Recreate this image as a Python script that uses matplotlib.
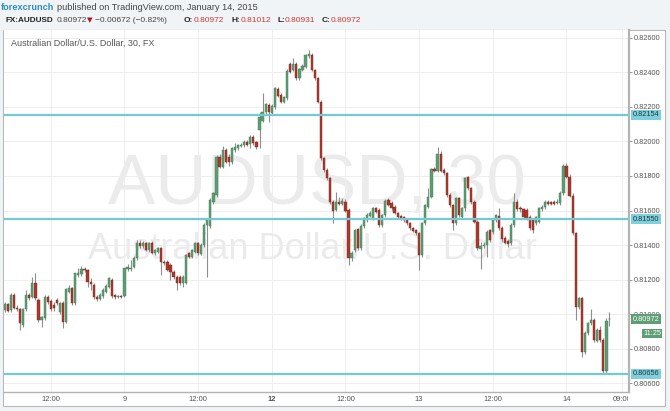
import matplotlib
matplotlib.use('Agg')
import matplotlib.pyplot as plt
import numpy as np
from matplotlib.patches import Rectangle
from matplotlib.transforms import blended_transform_factory, Bbox, TransformedBbox

# ---------------- data (AUDUSD, 30 min bars) ----------------
opens = [
    0.81024, 0.81059, 0.81024, 0.81111, 0.81034, 0.81028, 0.80937, 0.81028, 0.81111, 0.81101,
    0.81178, 0.81082, 0.80966, 0.80976, 0.81101, 0.81076, 0.81053, 0.81082, 0.81015, 0.81067,
    0.80957, 0.81130, 0.81150, 0.81063, 0.81227, 0.81231, 0.81261,
    0.81256, 0.81188, 0.81169, 0.81101, 0.81086, 0.81105, 0.81130, 0.81159, 0.81198, 0.81111,
    0.81101, 0.81105, 0.81105, 0.81260, 0.81260, 0.81275, 0.81323, 0.81410, 0.81395, 0.81410,
    0.81372, 0.81414, 0.81352, 0.81362, 0.81381, 0.81304,
    0.81304, 0.81285, 0.81246, 0.81217, 0.81213, 0.81182, 0.81182, 0.81352, 0.81333, 0.81362,
    0.81410, 0.81348, 0.81400, 0.81516, 0.81510, 0.81651, 0.81690, 0.81912, 0.81854, 0.81950,
    0.81912, 0.81883, 0.81950, 0.81960, 0.81973, 0.81979,
    0.81999, 0.81985, 0.82028, 0.81999, 0.82066, 0.82120, 0.82172, 0.82211, 0.82166, 0.82201,
    0.82302, 0.82269, 0.82230, 0.82249, 0.82448, 0.82413, 0.82448, 0.82365, 0.82413, 0.82433,
    0.82494, 0.82500, 0.82413, 0.82365, 0.82230, 0.81902,
    0.81834, 0.81786, 0.81651, 0.81603, 0.81651, 0.81638, 0.81651, 0.81603, 0.81323, 0.81371,
    0.81491, 0.81381, 0.81510, 0.81545, 0.81568, 0.81555, 0.81612, 0.81603, 0.81516, 0.81574,
    0.81661, 0.81645, 0.81622, 0.81584, 0.81568, 0.81560,
    0.81545, 0.81526, 0.81497, 0.81487, 0.81468, 0.81342, 0.81526, 0.81622, 0.81680, 0.81838,
    0.81831, 0.81927, 0.81834, 0.81815, 0.81690, 0.81632, 0.81530, 0.81670, 0.81564, 0.81612,
    0.81792, 0.81728, 0.81651, 0.81535, 0.81375, 0.81395,
    0.81400, 0.81487, 0.81477, 0.81545, 0.81568, 0.81497, 0.81439, 0.81425, 0.81414, 0.81516,
    0.81651, 0.81612, 0.81607, 0.81603, 0.81564, 0.81545, 0.81526, 0.81535, 0.81607, 0.81618,
    0.81651, 0.81647, 0.81651, 0.81641, 0.81641, 0.81699,
    0.81857, 0.81796, 0.81684, 0.81468, 0.81043, 0.81092, 0.80783, 0.80893, 0.80947, 0.80966,
    0.80847, 0.80908, 0.80850, 0.80673, 0.80972,
]
highs = [
    0.81072, 0.81067, 0.81120, 0.81120, 0.81053, 0.81034, 0.81034, 0.81140, 0.81120, 0.81217,
    0.81236, 0.81092, 0.80990, 0.81110, 0.81111, 0.81090, 0.81072, 0.81092, 0.81072, 0.81076,
    0.81150, 0.81170, 0.81160, 0.81236, 0.81270, 0.81280, 0.81275,
    0.81260, 0.81208, 0.81180, 0.81110, 0.81120, 0.81150, 0.81175, 0.81215, 0.81210, 0.81118,
    0.81110, 0.81112, 0.81270, 0.81290, 0.81314, 0.81335, 0.81430, 0.81430, 0.81425, 0.81420,
    0.81420, 0.81425, 0.81380, 0.81390, 0.81390, 0.81315,
    0.81314, 0.81295, 0.81256, 0.81227, 0.81225, 0.81225, 0.81350, 0.81362, 0.81380, 0.81420,
    0.81420, 0.81410, 0.81525, 0.81555, 0.81670, 0.81705, 0.81920, 0.81925, 0.81975, 0.81960,
    0.81925, 0.81970, 0.81990, 0.81985, 0.81990, 0.82010,
    0.82010, 0.82037, 0.82037, 0.82005, 0.82172, 0.82278, 0.82225, 0.82225, 0.82215, 0.82315,
    0.82315, 0.82278, 0.82265, 0.82420, 0.82460, 0.82481, 0.82460, 0.82425, 0.82445, 0.82505,
    0.82529, 0.82510, 0.82420, 0.82375, 0.82240, 0.81910,
    0.81845, 0.81795, 0.81660, 0.81709, 0.81680, 0.81670, 0.81665, 0.81612, 0.81365, 0.81495,
    0.81500, 0.81520, 0.81565, 0.81585, 0.81595, 0.81622, 0.81622, 0.81612, 0.81580, 0.81665,
    0.81675, 0.81655, 0.81630, 0.81592, 0.81575, 0.81568,
    0.81555, 0.81535, 0.81505, 0.81495, 0.81478, 0.81535, 0.81640, 0.81728, 0.81845, 0.81850,
    0.81966, 0.81945, 0.81845, 0.81825, 0.81700, 0.81640, 0.81680, 0.81680, 0.81620, 0.81795,
    0.81800, 0.81735, 0.81660, 0.81545, 0.81420, 0.81420,
    0.81485, 0.81495, 0.81555, 0.81580, 0.81612, 0.81510, 0.81450, 0.81435, 0.81525, 0.81699,
    0.81665, 0.81625, 0.81615, 0.81612, 0.81575, 0.81555, 0.81570, 0.81620, 0.81630, 0.81660,
    0.81660, 0.81655, 0.81660, 0.81665, 0.81710, 0.81870,
    0.81873, 0.81810, 0.81700, 0.81478, 0.81101, 0.81101, 0.80900, 0.80955, 0.81028, 0.80980,
    0.80920, 0.80930, 0.80860, 0.80980, 0.81012,
]
lows = [
    0.81015, 0.81015, 0.81015, 0.81028, 0.81020, 0.80908, 0.80928, 0.81020, 0.81082, 0.81092,
    0.81082, 0.80957, 0.80928, 0.80966, 0.81060, 0.81020, 0.81020, 0.81053, 0.81000, 0.80918,
    0.80947, 0.81120, 0.81053, 0.81053, 0.81217, 0.81220, 0.81245,
    0.81159, 0.81140, 0.81090, 0.81075, 0.81080, 0.81095, 0.81120, 0.81150, 0.81095, 0.81090,
    0.81092, 0.81094, 0.81098, 0.81250, 0.81250, 0.81265, 0.81315, 0.81385, 0.81385, 0.81365,
    0.81362, 0.81350, 0.81340, 0.81355, 0.81227, 0.81285,
    0.81250, 0.81198, 0.81205, 0.81140, 0.81170, 0.81160, 0.81175, 0.81325, 0.81325, 0.81355,
    0.81345, 0.81340, 0.81390, 0.81217, 0.81500, 0.81640, 0.81680, 0.81845, 0.81845, 0.81875,
    0.81860, 0.81870, 0.81940, 0.81950, 0.81965, 0.81970,
    0.81975, 0.81960, 0.81980, 0.81955, 0.81960, 0.82110, 0.82160, 0.82114, 0.82155, 0.82190,
    0.82255, 0.82220, 0.82220, 0.82240, 0.82395, 0.82405, 0.82355, 0.82355, 0.82405, 0.82425,
    0.82485, 0.82405, 0.82355, 0.82220, 0.81895, 0.81820,
    0.81775, 0.81640, 0.81526, 0.81595, 0.81630, 0.81630, 0.81590, 0.81285, 0.81310, 0.81360,
    0.81370, 0.81370, 0.81500, 0.81535, 0.81560, 0.81545, 0.81585, 0.81505, 0.81505, 0.81565,
    0.81625, 0.81605, 0.81578, 0.81550, 0.81545, 0.81535,
    0.81515, 0.81490, 0.81475, 0.81460, 0.81256, 0.81330, 0.81515, 0.81612, 0.81670, 0.81820,
    0.81820, 0.81820, 0.81805, 0.81680, 0.81620, 0.81487, 0.81515, 0.81560, 0.81555, 0.81600,
    0.81720, 0.81640, 0.81525, 0.81370, 0.81260, 0.81385,
    0.81333, 0.81420, 0.81465, 0.81535, 0.81490, 0.81420, 0.81405, 0.81390, 0.81400, 0.81505,
    0.81595, 0.81590, 0.81555, 0.81545, 0.81490, 0.81468, 0.81515, 0.81525, 0.81600, 0.81610,
    0.81630, 0.81630, 0.81630, 0.81635, 0.81630, 0.81690,
    0.81790, 0.81680, 0.81460, 0.80966, 0.81030, 0.80754, 0.80770, 0.80880, 0.80935, 0.80840,
    0.80840, 0.80840, 0.80656, 0.80660, 0.80931,
]
closes = [
    0.81059, 0.81020, 0.81111, 0.81034, 0.81030, 0.80947, 0.81028, 0.81111, 0.81092, 0.81178,
    0.81092, 0.80966, 0.80986, 0.81101, 0.81072, 0.81028, 0.81034, 0.81063, 0.81067, 0.80957,
    0.81144, 0.81150, 0.81063, 0.81236, 0.81236, 0.81260, 0.81256,
    0.81188, 0.81175, 0.81101, 0.81086, 0.81111, 0.81140, 0.81163, 0.81208, 0.81105, 0.81098,
    0.81105, 0.81101, 0.81265, 0.81271, 0.81265, 0.81323, 0.81410, 0.81395, 0.81410, 0.81372,
    0.81410, 0.81356, 0.81372, 0.81381, 0.81304, 0.81294,
    0.81256, 0.81246, 0.81217, 0.81179, 0.81182, 0.81217, 0.81343, 0.81333, 0.81371, 0.81410,
    0.81352, 0.81400, 0.81516, 0.81545, 0.81661, 0.81699, 0.81912, 0.81854, 0.81950, 0.81883,
    0.81883, 0.81960, 0.81966, 0.81979, 0.81979, 0.81998,
    0.81979, 0.82028, 0.81989, 0.81966, 0.82143, 0.82172, 0.82217, 0.82172, 0.82205, 0.82307,
    0.82263, 0.82230, 0.82255, 0.82410, 0.82404, 0.82448, 0.82365, 0.82417, 0.82437, 0.82500,
    0.82506, 0.82413, 0.82365, 0.82230, 0.81902, 0.81835,
    0.81786, 0.81651, 0.81599, 0.81651, 0.81638, 0.81657, 0.81599, 0.81323, 0.81352, 0.81487,
    0.81381, 0.81510, 0.81555, 0.81574, 0.81584, 0.81612, 0.81593, 0.81516, 0.81574, 0.81657,
    0.81632, 0.81612, 0.81584, 0.81560, 0.81555, 0.81545,
    0.81526, 0.81497, 0.81483, 0.81468, 0.81342, 0.81526, 0.81632, 0.81680, 0.81838, 0.81831,
    0.81927, 0.81831, 0.81815, 0.81690, 0.81632, 0.81526, 0.81670, 0.81574, 0.81612, 0.81786,
    0.81728, 0.81651, 0.81535, 0.81381, 0.81395, 0.81400,
    0.81477, 0.81429, 0.81545, 0.81574, 0.81497, 0.81433, 0.81414, 0.81406, 0.81516, 0.81651,
    0.81607, 0.81607, 0.81564, 0.81555, 0.81497, 0.81487, 0.81564, 0.81612, 0.81618, 0.81651,
    0.81637, 0.81637, 0.81637, 0.81651, 0.81699, 0.81857,
    0.81796, 0.81684, 0.81468, 0.81043, 0.81092, 0.80783, 0.80893, 0.80947, 0.80966, 0.80850,
    0.80908, 0.80850, 0.80673, 0.80962, 0.80972,
]

level_values = [0.82154, 0.81550, 0.80656]
price_ticks = [0.80600, 0.80800, 0.81000, 0.81200, 0.81400, 0.81600, 0.81800,
               0.82000, 0.82200, 0.82400, 0.82600]
time_tick_bars = [15, 39, 63, 87, 111, 135, 159, 183, 201]
time_tick_labels = ['12:00', '9', '12:00', '12', '12:00', '13', '12:00', '14', '09:00']
last_price = 0.80972
countdown = '11:25'

assert len(opens) == len(highs) == len(lows) == len(closes)

# ---------------- figure ----------------
W, H = 670, 411
fig = plt.figure(figsize=(W / 100, H / 100), dpi=100, facecolor='#F1F4F7')
plt.rcParams['font.family'] = ['Liberation Sans', 'DejaVu Sans']


def fx(px):
    return px / W


def fy(py):
    return 1 - py / H


fig.patches.append(Rectangle((fx(3), fy(406)), fx(665) - fx(3), fy(30) - fy(406),
                             transform=fig.transFigure, fc='white', ec='#B9B9B9',
                             lw=0.8, zorder=-5))

ax = fig.add_axes([fx(4), fy(392), fx(629) - fx(4), fy(30) - fy(392)])
ax.set_zorder(1)
ax.set_facecolor('white')

o = np.array(opens)
h = np.array(highs)
l = np.array(lows)
c = np.array(closes)
x = np.arange(len(c))
up = c >= o

# watermark
ax.text(fx(317), fy(186), 'AUDUSD, 30', transform=fig.transFigure, ha='center',
        va='center', fontsize=51, color='#EBEBEB', zorder=0.5, family='Liberation Sans')
ax.text(fx(313), fy(249), 'Australian Dollar/U.S. Dollar', transform=fig.transFigure,
        ha='center', va='center', fontsize=26, color='#EBEBEB', zorder=0.5,
        family='Liberation Sans')

# candles
ax.vlines(x, l, h, color='#8E8E8E', lw=0.8, zorder=3)
diff = np.abs(c - o)
min_body = 0.00003
body_h = np.maximum(diff, min_body)
body_b = np.minimum(o, c) - (body_h - diff) / 2
face = np.where(up, '#5E9E74', '#A9392C')
edge = np.where(up, '#3F7A52', '#7E2A20')
ax.bar(x, body_h, bottom=body_b, width=0.72, color=face, edgecolor=edge,
       linewidth=0.3, zorder=4)

# horizontal levels
for lv in level_values:
    ax.axhline(lv, color='#74C9D6', lw=1.6, zorder=5)

ax.set_xlim(-0.23, 203.36)
ax.set_ylim(0.805497, 0.826446)

ax.yaxis.tick_right()
ax.set_yticks(price_ticks)
ax.set_yticklabels(['%.5f' % v for v in price_ticks])
ax.set_xticks(time_tick_bars)
ax.set_xticklabels(time_tick_labels)
ax.tick_params(axis='y', length=2.5, width=0.6, color='#888888', labelsize=5.3,
               labelcolor='#555555', pad=1)
ax.tick_params(axis='x', length=0, labelsize=5.5, labelcolor='#555555', pad=3)
for lab in ax.get_xticklabels():
    if lab.get_text() == '12':
        lab.set_fontweight('bold')
clipbox = TransformedBbox(Bbox([[0, 0], [fx(628), 1]]), fig.transFigure)
for lab in ax.get_xticklabels():
    lab.set_clip_box(clipbox)
    lab.set_clip_on(True)

ax.grid(True, color='#EEEEEE', lw=0.7, zorder=0)
ax.set_axisbelow(True)
for s in ['top', 'left']:
    ax.spines[s].set_visible(False)
ax.spines['right'].set_color('#B3B3B3')
ax.spines['right'].set_linewidth(1.6)
ax.spines['bottom'].set_color('#B3B3B3')
ax.spines['bottom'].set_linewidth(1.0)

# right-axis value labels
btr = blended_transform_factory(ax.transAxes, ax.transData)
for lv in level_values:
    ax.text(1.006, lv, '%.5f' % lv, transform=btr, ha='left', va='center',
            fontsize=5.3, color='#1F3A40', clip_on=False, zorder=6,
            bbox=dict(boxstyle='square,pad=0.22', fc='#7FD0DC', ec='none'))
ax.text(1.006, last_price, '%.5f' % last_price, transform=btr, ha='left', va='center',
        fontsize=5.3, color='white', clip_on=False, zorder=6,
        bbox=dict(boxstyle='square,pad=0.18', fc='#5E9E74', ec='none'))
ax.text(fx(661), fy(333.5), countdown, transform=fig.transFigure, ha='right', va='center',
        fontsize=5.3, color='white', clip_on=False, zorder=6,
        bbox=dict(boxstyle='square,pad=0.15', fc='#5E9E74', ec='none'))

# inner title
ax.text(fx(11), fy(43), 'Australian Dollar/U.S. Dollar, 30, FX', transform=fig.transFigure,
        ha='left', va='center', fontsize=6.5, color='#555555', zorder=6)

# header
hdr_font = 6.6
line2_font = 6.0
y1 = fy(7.5)
y2 = fy(20.5)
fig.text(fx(1), y1, 'forexcrunch', ha='left', va='center', fontsize=hdr_font,
         color='#2D8CC4', fontweight='bold')
fig.text(fx(57), y1, 'published on TradingView.com, January 14, 2015', ha='left',
         va='center', fontsize=hdr_font, color='#444444')
red = '#CC3A35'
fig.text(fx(6), y2, 'FX:AUDUSD', ha='left', va='center', fontsize=5.9,
         color='#222222', fontweight='bold')
fig.text(fx(57), y2, '0.80972', ha='left', va='center', fontsize=line2_font, color='#444444')
fig.text(fx(86.5), y2, '\u25BC', ha='left', va='center', fontsize=5.2, color='#B8141B',
         family='DejaVu Sans')
fig.text(fx(95), y2, '\u22120.00672 (\u22120.82%)', ha='left', va='center',
         fontsize=line2_font, color='#444444', family=['Liberation Sans', 'DejaVu Sans'])
for lx, ltxt, vx, vtxt in [(184, 'O:', 194, '0.80972'), (231, 'H:', 241, '0.81012'),
                           (277, 'L:', 285, '0.80931'), (322, 'C:', 331, '0.80972')]:
    fig.text(fx(lx), y2, ltxt, ha='left', va='center', fontsize=line2_font,
             color='#222222', fontweight='bold')
    fig.text(fx(vx), y2, vtxt, ha='left', va='center', fontsize=line2_font, color=red)

fig.savefig('out.png', dpi=100, facecolor=fig.get_facecolor())
